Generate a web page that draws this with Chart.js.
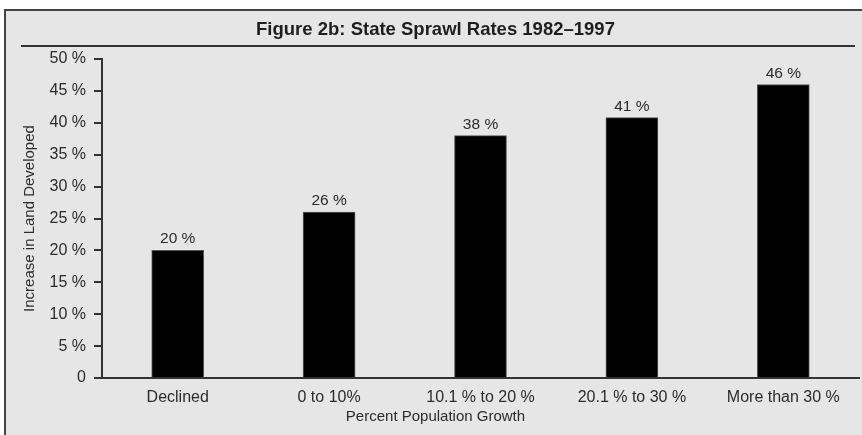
<!DOCTYPE html>
<html>
<head>
<meta charset="utf-8">
<script src="https://cdn.jsdelivr.net/npm/chart.js@4"></script>
<style>
  html, body { margin: 0; padding: 0; background: #fff; }
  #wrap { width: 862px; height: 435px; }
</style>
</head>
<body>
<div id="wrap"><canvas id="sprawl-chart" width="862" height="435"></canvas></div>
<script>
// Figure 2b data
var categories = ['Declined', '0 to 10%', '10.1 % to 20 %', '20.1 % to 30 %', 'More than 30 %'];
var landIncrease = [20, 26, 38, 40.8, 46];
var valueLabels = ['20 %', '26 %', '38 %', '41 %', '46 %'];
var yMin = 0, yMax = 50, yStep = 5;

var FONT = '"Liberation Sans", Arial, Helvetica, sans-serif';
var INK = '#2b2b2b';
Chart.defaults.font.family = FONT;

// grey panel, frame and the rule under the heading
var panel = {
  id: 'panel',
  beforeDraw: function(chart) {
    var ctx = chart.ctx;
    var w = chart.width, h = chart.height;
    ctx.save();
    ctx.fillStyle = '#fff';
    ctx.fillRect(0, 0, w, h);
    ctx.fillStyle = '#e6e6e6';
    ctx.fillRect(4, 9, w - 4, h - 9);
    ctx.strokeStyle = '#444';
    ctx.lineWidth = 2;
    ctx.beginPath();
    ctx.moveTo(5, h);
    ctx.lineTo(5, 10);
    ctx.lineTo(w, 10);
    ctx.stroke();
    ctx.strokeStyle = '#333';
    ctx.beginPath();
    ctx.moveTo(21, 46);
    ctx.lineTo(855, 46);
    ctx.stroke();
    ctx.restore();
  }
};

// value printed above each bar
var barLabels = {
  id: 'barLabels',
  afterDatasetsDraw: function(chart) {
    var ctx = chart.ctx;
    var meta = chart.getDatasetMeta(0);
    ctx.save();
    ctx.font = '15.5px ' + FONT;
    ctx.fillStyle = INK;
    ctx.textAlign = 'center';
    ctx.textBaseline = 'alphabetic';
    meta.data.forEach(function(bar, i) {
      ctx.fillText(valueLabels[i], bar.x, bar.y - 7);
    });
    ctx.restore();
  }
};

new Chart(document.getElementById('sprawl-chart'), {
  type: 'bar',
  data: {
    labels: categories,
    datasets: [{
      data: landIncrease,
      backgroundColor: '#000',
      borderColor: '#555',
      borderWidth: 1,
      barThickness: 52
    }]
  },
  options: {
    responsive: false,
    animation: false,
    layout: { padding: { left: 12, right: 3, top: 0, bottom: 0 } },
    plugins: {
      legend: { display: false },
      tooltip: { enabled: false },
      title: {
        display: true,
        text: 'Figure 2b: State Sprawl Rates 1982–1997',
        color: '#1e1e1e',
        font: { size: 18.5, weight: 'bold' },
        padding: { top: 19, bottom: 17.8 }
      },
      subtitle: {
        display: true,
        position: 'bottom',
        text: 'Percent Population Growth',
        color: INK,
        font: { size: 15 },
        padding: { top: 0, bottom: 9 }
      }
    },
    scales: {
      x: {
        grid: { display: true, drawOnChartArea: false, drawTicks: false },
        border: { display: true, color: '#333', width: 2 },
        ticks: { color: INK, font: { size: 16 }, padding: 10 },
        afterFit: function(scale) { scale.height = 30; }
      },
      y: {
        min: yMin,
        max: yMax,
        ticks: {
          stepSize: yStep,
          color: INK,
          font: { size: 16 },
          padding: 8,
          callback: function(v) { return v === 0 ? '0' : v + ' %'; }
        },
        grid: { drawOnChartArea: false, drawTicks: true, tickLength: 8, color: '#333', lineWidth: 2 },
        border: { display: true, color: '#333', width: 2 },
        title: {
          display: true,
          text: 'Increase in Land Developed',
          color: INK,
          font: { size: 15 },
          padding: { top: 9, bottom: 0 }
        },
        afterFit: function(scale) { scale.width = 90; }
      }
    }
  },
  plugins: [panel, barLabels]
});
</script>
</body>
</html>
